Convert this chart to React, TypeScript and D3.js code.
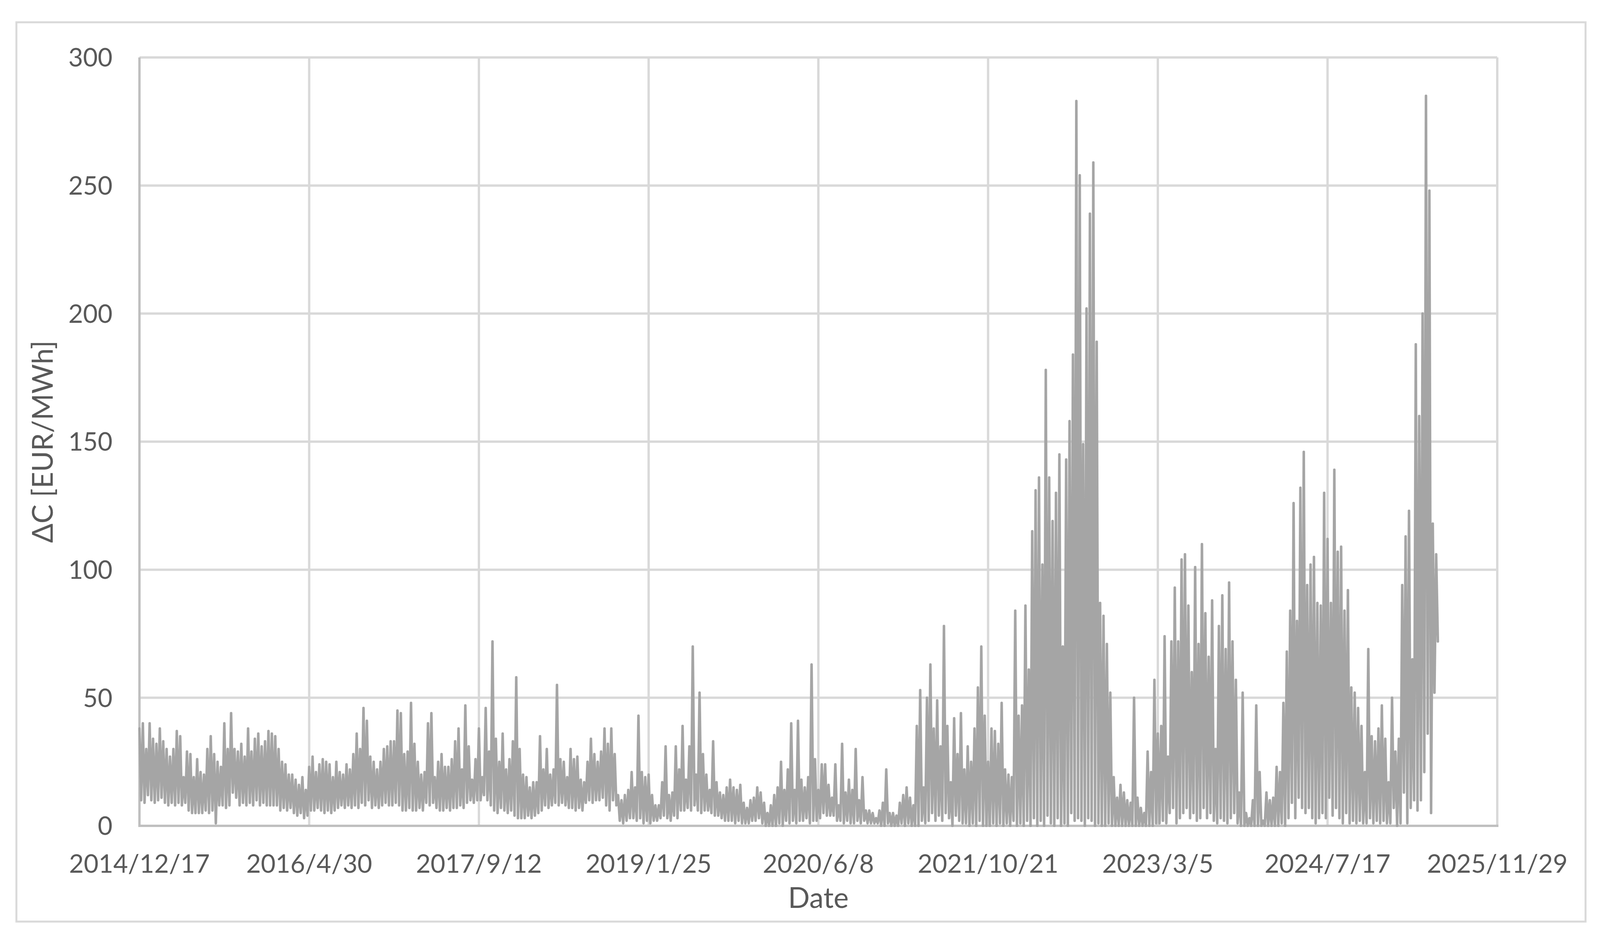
import React from "react";
import * as d3 from "d3";

// Axis definition (Excel-style date axis: min 2014/12/17, major unit 500 days)
const START = new Date(Date.UTC(2014, 11, 17));
const TICK_STEP_DAYS = 500;
const TICK_COUNT = 9;
const Y_TICKS = [0, 50, 100, 150, 200, 250, 300];
const STEP_DAYS = 5; // spacing of the sampled points within each segment

// ΔC [EUR/MWh], sampled every 5 days (alternating local highs and lows), one array per 500-day axis interval
const seg2014_12_17 = [
  38, 10, 40, 9, 30, 12, 40, 10, 34, 9, 32, 10, 38, 11, 33, 9, 30, 8, 27, 9,
  30, 8, 37, 9, 35, 8, 19, 9, 29, 6, 28, 5, 19, 5, 26, 5, 21, 5, 20, 6,
  30, 5, 35, 6, 28, 1, 25, 8, 23, 8, 40, 7, 30, 8, 44, 13, 30, 11, 29, 8,
  32, 9, 27, 8, 38, 9, 29, 8, 34, 10, 36, 8, 31, 9, 33, 8, 37, 8, 36, 8,
  35, 8, 30, 6, 25, 7, 24, 6, 20, 7, 20, 5, 18, 4, 16, 5, 19, 3, 14, 4,
];
const seg2016_4_30 = [
  23, 6, 27, 6, 21, 7, 24, 6, 26, 5, 25, 6, 24, 5, 19, 6, 25, 7, 21, 8,
  20, 7, 24, 8, 22, 7, 28, 8, 36, 7, 30, 9, 46, 8, 41, 10, 27, 7, 25, 8,
  22, 7, 25, 8, 30, 9, 31, 8, 33, 8, 33, 9, 45, 8, 44, 6, 28, 6, 29, 7,
  48, 6, 32, 6, 25, 7, 20, 6, 21, 9, 40, 8, 44, 9, 19, 7, 25, 6, 28, 6,
  23, 7, 23, 6, 26, 7, 33, 7, 38, 8, 22, 7, 47, 9, 31, 10, 18, 9, 26, 10,
];
const seg2017_9_12 = [
  38, 10, 19, 12, 46, 10, 29, 8, 72, 6, 34, 5, 25, 7, 36, 6, 22, 5, 26, 6,
  33, 4, 58, 3, 30, 3, 20, 3, 19, 4, 15, 3, 17, 4, 17, 5, 35, 6, 22, 8,
  30, 7, 20, 8, 22, 9, 55, 8, 26, 9, 25, 8, 19, 7, 30, 7, 26, 6, 27, 7,
  18, 6, 17, 9, 25, 10, 34, 9, 28, 10, 25, 10, 29, 11, 38, 8, 32, 6, 38, 10,
  28, 8, 12, 2, 10, 1, 12, 2, 14, 3, 21, 3, 15, 2, 43, 3, 21, 1, 19, 2,
];
const seg2019_1_25 = [
  20, 1, 12, 2, 8, 2, 8, 3, 17, 4, 31, 3, 12, 2, 13, 4, 31, 3, 22, 6,
  39, 6, 18, 7, 31, 6, 70, 8, 20, 6, 52, 5, 28, 6, 20, 6, 14, 5, 33, 4,
  17, 4, 13, 3, 12, 2, 15, 2, 18, 2, 15, 1, 14, 2, 16, 1, 9, 1, 7, 1,
  10, 2, 11, 2, 15, 3, 13, 1, 9, 0, 5, 0, 8, 0, 12, 0, 15, 1, 25, 0,
  14, 2, 22, 1, 40, 2, 14, 1, 41, 2, 18, 2, 15, 3, 19, 1, 63, 2, 26, 2,
];
const seg2020_6_8 = [
  14, 3, 24, 5, 24, 4, 16, 4, 11, 4, 24, 2, 8, 2, 32, 1, 13, 2, 18, 1,
  14, 1, 30, 2, 10, 1, 19, 2, 6, 1, 6, 1, 5, 1, 3, 1, 6, 0, 9, 0,
  22, 1, 5, 0, 5, 0, 4, 0, 9, 1, 12, 0, 15, 1, 11, 0, 8, 0, 39, 0,
  53, 2, 15, 1, 50, 2, 63, 5, 38, 2, 49, 4, 31, 2, 78, 5, 39, 3, 17, 0,
  42, 4, 28, 2, 44, 1, 22, 1, 31, 0, 25, 1, 38, 0, 54, 2, 70, 0, 43, 0,
];
const seg2021_10_21 = [
  25, 0, 38, 1, 37, 0, 32, 1, 48, 0, 22, 1, 20, 0, 19, 2, 84, 0, 43, 1,
  47, 0, 86, 2, 61, 0, 115, 3, 131, 0, 136, 2, 102, 0, 178, 4, 136, 1, 119, 0,
  130, 3, 145, 0, 70, 1, 143, 0, 158, 5, 184, 2, 283, 3, 254, 2, 149, 0, 202, 3,
  239, 2, 259, 0, 189, 1, 87, 0, 82, 0, 71, 1, 52, 0, 19, 0, 11, 0, 16, 0,
  13, 0, 10, 0, 9, 0, 50, 0, 11, 0, 7, 0, 5, 0, 29, 0, 21, 0, 57, 1,
];
const seg2023_3_5 = [
  36, 1, 39, 2, 74, 1, 27, 5, 72, 7, 93, 1, 72, 3, 104, 5, 106, 7, 86, 3,
  60, 5, 101, 2, 71, 3, 110, 7, 83, 3, 66, 5, 88, 2, 30, 1, 78, 3, 90, 2,
  69, 1, 95, 3, 72, 5, 57, 1, 13, 0, 52, 0, 5, 0, 3, 0, 10, 0, 47, 0,
  21, 0, 2, 0, 13, 0, 10, 0, 11, 0, 23, 0, 21, 1, 48, 0, 68, 3, 84, 9,
  126, 3, 80, 11, 132, 7, 146, 5, 94, 7, 102, 3, 105, 1, 87, 3, 86, 5, 130, 3,
];
const seg2024_7_17 = [
  112, 11, 87, 4, 139, 7, 107, 3, 109, 1, 84, 5, 92, 1, 54, 2, 52, 1, 46, 2,
  39, 1, 21, 1, 69, 3, 35, 1, 33, 2, 38, 1, 47, 2, 34, 1, 17, 1, 50, 7,
  29, 0, 34, 1, 94, 13, 113, 1, 123, 7, 65, 10, 188, 6, 160, 10, 200, 21, 285, 36,
  248, 5, 118, 52, 106, 72,
];

const SEGMENTS = [
  seg2014_12_17,
  seg2016_4_30,
  seg2017_9_12,
  seg2019_1_25,
  seg2020_6_8,
  seg2021_10_21,
  seg2023_3_5,
  seg2024_7_17,
];

type Pt = { date: Date; value: number };

const series: Pt[] = SEGMENTS.flatMap((seg, s) =>
  seg.map((v, i) => ({
    date: d3.utcDay.offset(START, s * TICK_STEP_DAYS + i * STEP_DAYS),
    value: v,
  }))
);

const W = 4106;
const H = 2400;
const PLOT = { left: 357, right: 3833, top: 147, bottom: 2113 };

const FONT = "Lato, 'Open Sans', 'DejaVu Sans', sans-serif";
const TEXT_COLOR = "#595959";
const GRID = "#d9d9d9";
const AXIS = "#bfbfbf";
const LINE = "#a5a5a5";

export default function App() {
  const xTicks = d3.range(TICK_COUNT).map((k) => d3.utcDay.offset(START, k * TICK_STEP_DAYS));
  const x = d3
    .scaleUtc()
    .domain([xTicks[0], xTicks[xTicks.length - 1]])
    .range([PLOT.left, PLOT.right]);
  const y = d3.scaleLinear().domain([0, 300]).range([PLOT.bottom, PLOT.top]);
  const fmt = d3.utcFormat("%Y/%-m/%-d");

  const line = d3
    .line<Pt>()
    .x((d) => x(d.date))
    .y((d) => y(d.value));

  return (
    <svg
      width={W}
      height={H}
      viewBox={`0 0 ${W} ${H}`}
      style={{ position: "absolute", left: 0, top: 0, display: "block", background: "#fff" }}
    >
      <rect x={0} y={0} width={W} height={H} fill="#fff" />
      {/* chart area border */}
      <rect x={42} y={57} width={4017} height={2301} fill="none" stroke={GRID} strokeWidth={5} />

      {/* horizontal gridlines */}
      {Y_TICKS.filter((t) => t > 0).map((t) => (
        <line
          key={"h" + t}
          x1={PLOT.left}
          x2={PLOT.right}
          y1={y(t)}
          y2={y(t)}
          stroke={GRID}
          strokeWidth={6}
        />
      ))}
      {/* vertical gridlines */}
      {xTicks.slice(1).map((t, i) => (
        <line
          key={"v" + i}
          x1={x(t)}
          x2={x(t)}
          y1={PLOT.top}
          y2={PLOT.bottom}
          stroke={GRID}
          strokeWidth={6}
        />
      ))}
      {/* axis lines */}
      <line x1={PLOT.left} x2={PLOT.left} y1={PLOT.top} y2={PLOT.bottom + 3} stroke={AXIS} strokeWidth={6} />
      <line x1={PLOT.left} x2={PLOT.right + 3} y1={PLOT.bottom} y2={PLOT.bottom} stroke={AXIS} strokeWidth={6} />

      {/* data */}
      <path
        d={line(series) || ""}
        fill="none"
        stroke={LINE}
        strokeWidth={6.5}
        strokeLinejoin="round"
        strokeLinecap="round"
      />

      {/* y tick labels */}
      {Y_TICKS.map((t) => (
        <text
          key={"yl" + t}
          x={288}
          y={y(t)}
          dy="0.36em"
          textAnchor="end"
          fontFamily={FONT}
          fontSize={65}
          fill={TEXT_COLOR}
        >
          {t}
        </text>
      ))}
      {/* x tick labels */}
      {xTicks.map((t, i) => (
        <text
          key={"xl" + i}
          x={x(t)}
          y={2233}
          textAnchor="middle"
          fontFamily={FONT}
          fontSize={65}
          fill={TEXT_COLOR}
        >
          {fmt(t)}
        </text>
      ))}

      {/* axis titles */}
      <text
        x={(PLOT.left + PLOT.right) / 2}
        y={2323}
        textAnchor="middle"
        fontFamily={FONT}
        fontSize={73}
        fill={TEXT_COLOR}
      >
        Date
      </text>
      <text
        transform={`translate(135, ${(PLOT.top + PLOT.bottom) / 2}) rotate(-90)`}
        textAnchor="middle"
        fontFamily={FONT}
        fontSize={73}
        fill={TEXT_COLOR}
      >
        ΔC [EUR/MWh]
      </text>
    </svg>
  );
}
